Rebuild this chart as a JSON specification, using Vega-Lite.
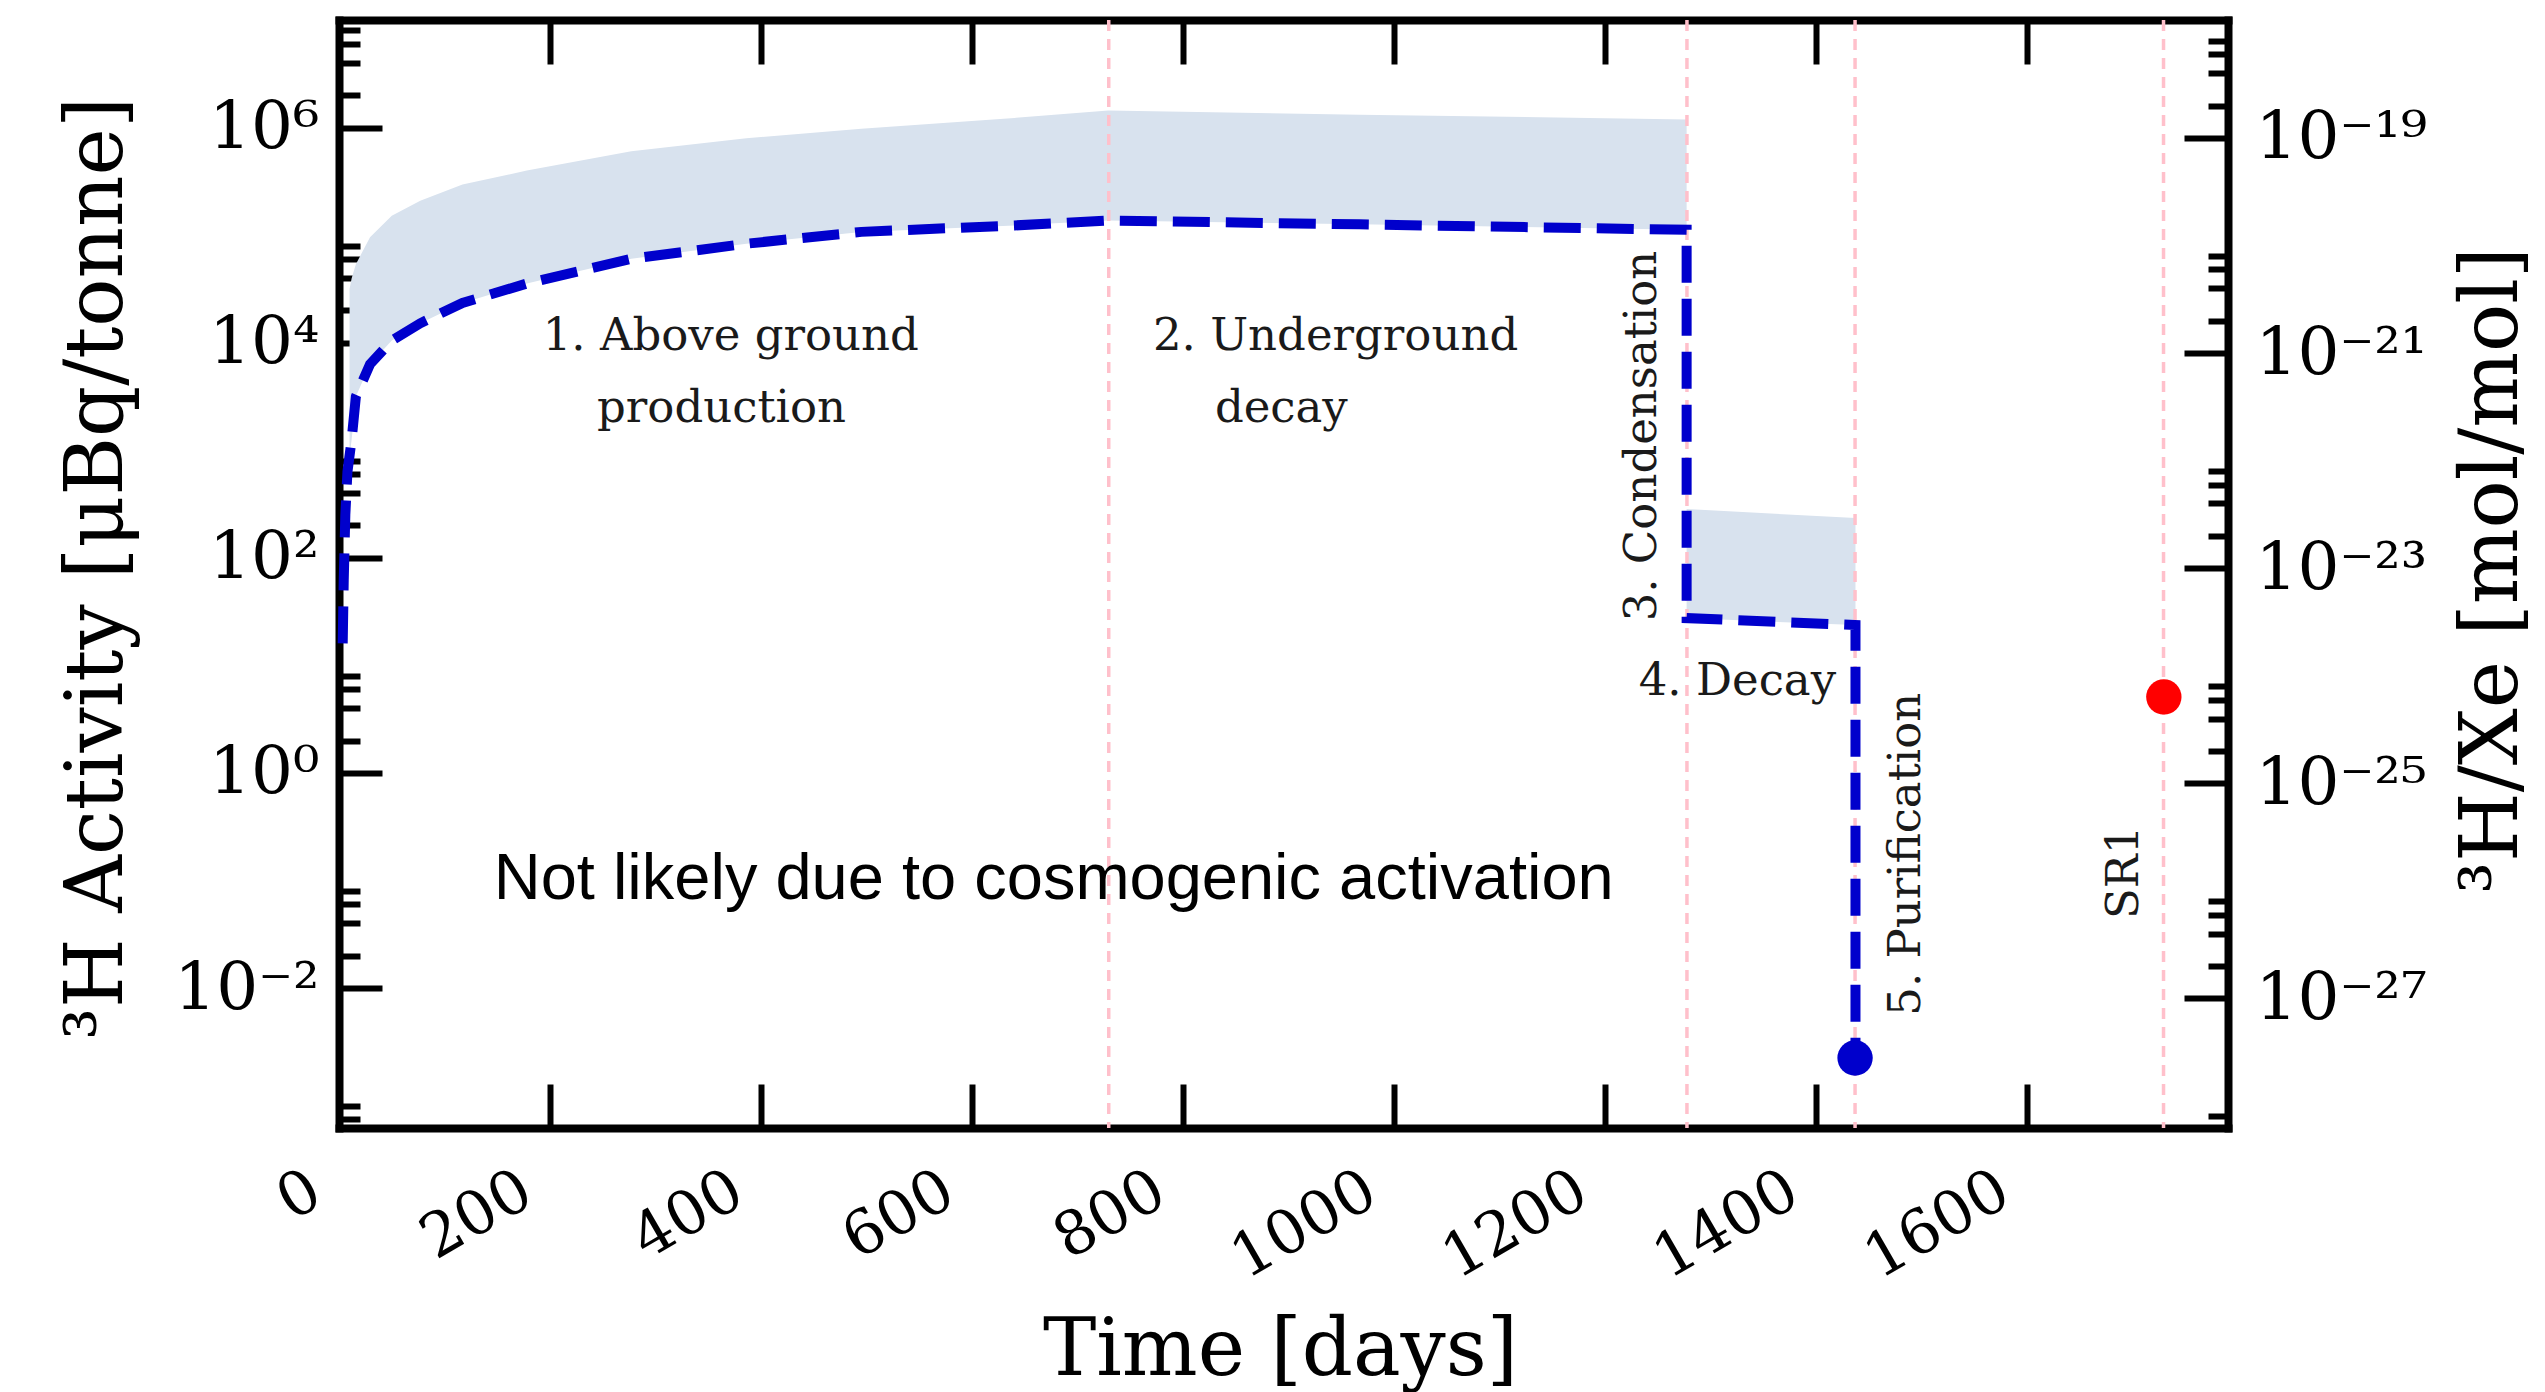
{
  "$schema": "https://vega.github.io/schema/vega-lite/v6.json",
  "width": 1889,
  "height": 1108,
  "autosize": {"type": "none"},
  "padding": {"left": 339, "top": 20, "right": 317, "bottom": 264},
  "background": "white",
  "config": {
    "view": {"stroke": null},
    "axis": {
      "domainColor": "black",
      "domainWidth": 8,
      "domainCap": "square",
      "tickColor": "black",
      "tickWidth": 6,
      "grid": false,
      "labelColor": "black",
      "labelFont": "DejaVu Serif",
      "titleFont": "DejaVu Serif",
      "titleFontWeight": "normal",
      "titleColor": "black",
      "labelFlush": false,
      "labelOverlap": false,
      "labelBound": false
    }
  },
  "datasets": {
    "band": [
      {"seg": 1, "day": 10, "lo": 891, "hi": 31620},
      {"seg": 1, "day": 12, "lo": 1259, "hi": 39810},
      {"seg": 1, "day": 16, "lo": 3162, "hi": 53700},
      {"seg": 1, "day": 29.4, "lo": 6310, "hi": 95500},
      {"seg": 1, "day": 50, "lo": 10470, "hi": 151400},
      {"seg": 1, "day": 77, "lo": 15140, "hi": 208900},
      {"seg": 1, "day": 117, "lo": 23440, "hi": 295100},
      {"seg": 1, "day": 178, "lo": 35480, "hi": 398100},
      {"seg": 1, "day": 277, "lo": 60260, "hi": 602600},
      {"seg": 1, "day": 386, "lo": 83180, "hi": 794300},
      {"seg": 1, "day": 495, "lo": 107200, "hi": 977200},
      {"seg": 1, "day": 640, "lo": 123000, "hi": 1230000},
      {"seg": 1, "day": 729, "lo": 136500, "hi": 1439000},
      {"seg": 1, "day": 967, "lo": 125900, "hi": 1318000},
      {"seg": 1, "day": 1277, "lo": 112200, "hi": 1189000},
      {"seg": 2, "day": 1277, "lo": 27.5, "hi": 283.8},
      {"seg": 2, "day": 1437, "lo": 23.7, "hi": 234.4}
    ],
    "line": [
      {"i": 1, "day": 3.5, "value": 16},
      {"i": 2, "day": 4.5, "value": 63},
      {"i": 3, "day": 6, "value": 251},
      {"i": 4, "day": 8, "value": 631},
      {"i": 5, "day": 12, "value": 1259},
      {"i": 6, "day": 16, "value": 3162},
      {"i": 7, "day": 29.4, "value": 6310},
      {"i": 8, "day": 50, "value": 10470},
      {"i": 9, "day": 77, "value": 15140},
      {"i": 10, "day": 117, "value": 23440},
      {"i": 11, "day": 178, "value": 35480},
      {"i": 12, "day": 277, "value": 60260},
      {"i": 13, "day": 386, "value": 83180},
      {"i": 14, "day": 495, "value": 107200},
      {"i": 15, "day": 640, "value": 123000},
      {"i": 16, "day": 729, "value": 136500},
      {"i": 17, "day": 967, "value": 125900},
      {"i": 18, "day": 1277, "value": 112200},
      {"i": 19, "day": 1277, "value": 27.5},
      {"i": 20, "day": 1437, "value": 23.7},
      {"i": 21, "day": 1437, "value": 0.00224}
    ],
    "phases": [
      {"day": 729.4},
      {"day": 1277.3},
      {"day": 1436.6},
      {"day": 1728.9}
    ],
    "points": [
      {"series": "model", "day": 1436.6, "value": 0.00224},
      {"series": "SR1", "day": 1729.2, "value": 5.09}
    ],
    "labels_h": [
      {"text": "1. Above ground", "day": 193, "value": 8472},
      {"text": "production", "day": 244.5, "value": 1832},
      {"text": "2. Underground", "day": 771.3, "value": 8472},
      {"text": "decay", "day": 830, "value": 1832},
      {"text": "4. Decay", "day": 1231.6, "value": 5.28}
    ],
    "labels_v": [
      {"text": "3. Condensation", "day": 1248, "value": 1355},
      {"text": "5. Purification", "day": 1498.6, "value": 0.1754},
      {"text": "SR1", "day": 1705, "value": 0.1191}
    ],
    "note": [
      {"text": "Not likely due to cosmogenic activation", "day": 146.6, "value": 0.0674}
    ],
    "right": [
      {"day": 0, "ratio": 1e-20}
    ]
  },
  "layer": [
    {
      "data": {"name": "band"},
      "mark": {"type": "area", "color": "#d8e2ee", "opacity": 1},
      "encoding": {
        "x": {
          "field": "day", "type": "quantitative",
          "scale": {"domain": [0, 1790], "nice": false, "zero": false},
          "axis": {
            "orient": "bottom",
            "values": [0, 200, 400, 600, 800, 1000, 1200, 1400, 1600],
            "format": "d",
            "tickSize": -44,
            "labelFontSize": 61,
            "labelAngle": -30,
            "labelAlign": "right",
            "labelBaseline": "top",
            "labelOffset": -38,
            "labelPadding": 76,
            "title": "Time [days]",
            "titleFontSize": 80,
            "titleX": 941,
            "titleY": 246,
            "titleAlign": "center",
            "titleBaseline": "alphabetic",
            "titleAngle": 0
          }
        },
        "y": {
          "field": "hi", "type": "quantitative",
          "scale": {"type": "log", "domain": [0.0005, 10000000], "nice": false},
          "axis": {
            "orient": "left",
            "values": [0.0006, 0.0008, 0.01, 0.02, 0.04, 0.06, 0.08, 1, 2, 4, 6, 8, 100, 200, 400, 600, 800, 10000, 20000, 40000, 60000, 80000, 1000000, 2000000, 4000000, 6000000, 8000000],
            "tickSize": {"condition": {"test": "indexof([0.01, 1, 100, 10000, 1000000], datum.value) >= 0", "value": -43}, "value": -21},
            "labelExpr": "datum.value == 1000000 ? '10⁶' : datum.value == 10000 ? '10⁴' : datum.value == 100 ? '10²' : datum.value == 1 ? '10⁰' : datum.value == 0.01 ? '10⁻²' : ''",
            "labelFontSize": 66,
            "labelPadding": 63,
            "labelAlign": "right",
            "labelBaseline": "middle",
            "title": "³H Activity [μBq/tonne]",
            "titleFontSize": 80,
            "titleAngle": 270,
            "titleX": -218,
            "titleY": 548,
            "titleAlign": "center",
            "titleBaseline": "alphabetic"
          }
        },
        "y2": {"field": "lo"},
        "detail": {"field": "seg", "type": "nominal"}
      }
    },
    {
      "data": {"name": "phases"},
      "mark": {"type": "rule", "color": "#ffc0cb", "strokeWidth": 3.5, "strokeDash": [11, 8]},
      "encoding": {
        "x": {"field": "day", "type": "quantitative", "scale": {"domain": [0, 1790], "nice": false, "zero": false}, "axis": null}
      }
    },
    {
      "data": {"name": "line"},
      "mark": {"type": "line", "color": "#0000cc", "strokeWidth": 10, "strokeDash": [37, 16], "strokeCap": "butt", "strokeJoin": "miter"},
      "encoding": {
        "x": {"field": "day", "type": "quantitative", "scale": {"domain": [0, 1790], "nice": false, "zero": false}, "axis": null},
        "y": {"field": "value", "type": "quantitative", "scale": {"type": "log", "domain": [0.0005, 10000000], "nice": false}, "axis": null},
        "order": {"field": "i", "type": "quantitative"}
      }
    },
    {
      "data": {"name": "points"},
      "mark": {"type": "point", "filled": true, "size": 1250, "opacity": 1},
      "encoding": {
        "x": {"field": "day", "type": "quantitative", "scale": {"domain": [0, 1790], "nice": false, "zero": false}, "axis": null},
        "y": {"field": "value", "type": "quantitative", "scale": {"type": "log", "domain": [0.0005, 10000000], "nice": false}, "axis": null},
        "color": {"field": "series", "type": "nominal", "scale": {"domain": ["model", "SR1"], "range": ["#0000cc", "#ff0000"]}, "legend": null}
      }
    },
    {
      "data": {"name": "labels_h"},
      "mark": {"type": "text", "font": "DejaVu Serif", "fontSize": 45, "align": "left", "baseline": "alphabetic", "color": "#1a1a1a"},
      "encoding": {
        "x": {"field": "day", "type": "quantitative", "scale": {"domain": [0, 1790], "nice": false, "zero": false}, "axis": null},
        "y": {"field": "value", "type": "quantitative", "scale": {"type": "log", "domain": [0.0005, 10000000], "nice": false}, "axis": null},
        "text": {"field": "text"}
      }
    },
    {
      "data": {"name": "labels_v"},
      "mark": {"type": "text", "font": "DejaVu Serif", "fontSize": 45, "align": "center", "baseline": "alphabetic", "angle": 270, "color": "#1a1a1a"},
      "encoding": {
        "x": {"field": "day", "type": "quantitative", "scale": {"domain": [0, 1790], "nice": false, "zero": false}, "axis": null},
        "y": {"field": "value", "type": "quantitative", "scale": {"type": "log", "domain": [0.0005, 10000000], "nice": false}, "axis": null},
        "text": {"field": "text"}
      }
    },
    {
      "data": {"name": "note"},
      "mark": {"type": "text", "font": "Liberation Sans", "fontSize": 65, "align": "left", "baseline": "alphabetic", "color": "black"},
      "encoding": {
        "x": {"field": "day", "type": "quantitative", "scale": {"domain": [0, 1790], "nice": false, "zero": false}, "axis": null},
        "y": {"field": "value", "type": "quantitative", "scale": {"type": "log", "domain": [0.0005, 10000000], "nice": false}, "axis": null},
        "text": {"field": "text"}
      }
    },
    {
      "data": {"name": "right"},
      "mark": {"type": "point", "opacity": 0},
      "encoding": {
        "x": {
          "field": "day", "type": "quantitative",
          "scale": {"domain": [0, 1790], "nice": false, "zero": false},
          "axis": {
            "orient": "top",
            "values": [200, 400, 600, 800, 1000, 1200, 1400, 1600],
            "labels": false,
            "tickSize": -44,
            "title": null
          }
        },
        "y": {
          "field": "ratio", "type": "quantitative",
          "scale": {"type": "log", "domain": [6.25e-29, 1.25e-18], "nice": false},
          "axis": {
            "orient": "right",
            "values": [8e-29, 1e-27, 2e-27, 4e-27, 6e-27, 8e-27, 1e-25, 2e-25, 4e-25, 6e-25, 8e-25, 1e-23, 2e-23, 4e-23, 6e-23, 8e-23, 1e-21, 2e-21, 4e-21, 6e-21, 8e-21, 1e-19, 2e-19, 4e-19, 6e-19, 8e-19],
            "tickSize": {"condition": {"test": "indexof([1e-27, 1e-25, 1e-23, 1e-21, 1e-19], datum.value) >= 0", "value": -44}, "value": -20},
            "labelExpr": "datum.value == 1e-19 ? '10⁻¹⁹' : datum.value == 1e-21 ? '10⁻²¹' : datum.value == 1e-23 ? '10⁻²³' : datum.value == 1e-25 ? '10⁻²⁵' : datum.value == 1e-27 ? '10⁻²⁷' : ''",
            "labelFontSize": 66,
            "labelPadding": 71,
            "labelAlign": "left",
            "labelBaseline": "middle",
            "title": "³H/Xe [mol/mol]",
            "titleFontSize": 80,
            "titleAngle": 270,
            "titleX": 288,
            "titleY": 550,
            "titleAlign": "center",
            "titleBaseline": "alphabetic"
          }
        }
      }
    }
  ],
  "resolve": {
    "scale": {"y": "independent"},
    "axis": {"x": "independent", "y": "independent"}
  }
}
